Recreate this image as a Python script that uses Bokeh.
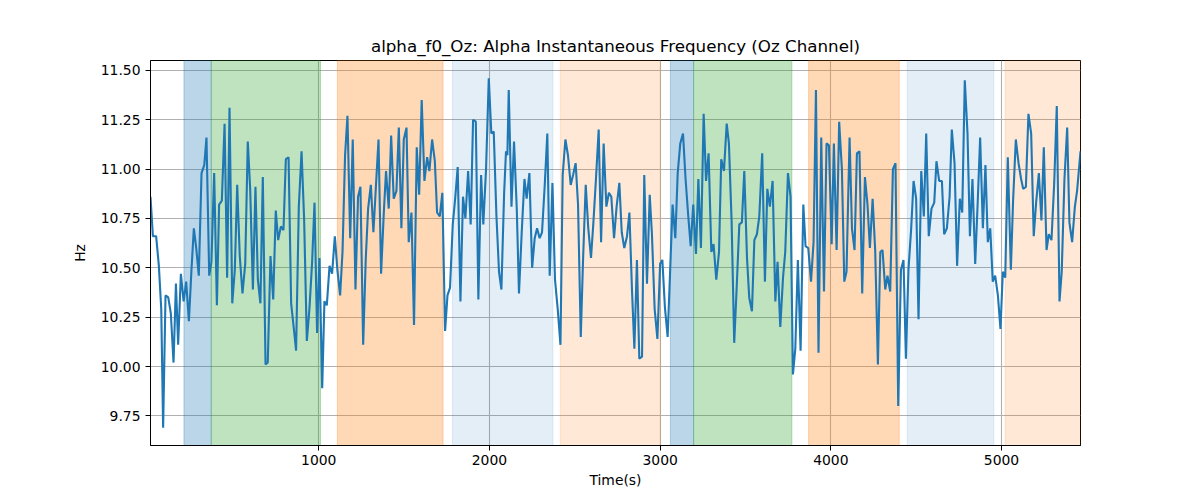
from bokeh.plotting import figure
from bokeh.embed import file_html
from bokeh.resources import INLINE
from bokeh.models import BoxAnnotation, Range1d, FixedTicker, NumeralTickFormatter

# sample times (s) and alpha instantaneous frequency (Hz)
time_s = [
    14, 28, 47, 63, 77, 88, 102, 118, 133, 149, 163, 176, 192, 208, 223, 239, 254, 268, 282, 297,
    313, 329, 342, 358, 371, 387, 403, 416, 432, 448, 463, 477, 493, 508, 522, 537, 553, 569, 584, 598,
    614, 629, 643, 658, 672, 688, 701, 717,
    733, 748, 762, 778, 793, 807, 823, 838, 854, 867, 883, 899, 914, 930, 945, 961, 975, 990, 1004, 1020,
    1033, 1047, 1063, 1078, 1094, 1109, 1125, 1139, 1154, 1168, 1184, 1199, 1215, 1230, 1244, 1260, 1275, 1289, 1305, 1320,
    1334, 1350, 1365, 1381, 1394,
    1410, 1424, 1439, 1455, 1469, 1484, 1498, 1514, 1527, 1543, 1558, 1574, 1588, 1603, 1619, 1635, 1648, 1664, 1680, 1693,
    1709, 1724, 1740, 1754, 1769, 1785, 1800, 1814, 1830, 1845, 1859, 1875, 1890, 1904, 1920, 1935, 1951, 1964, 1980, 1996,
    2011, 2025, 2041, 2056, 2070, 2086, 2097, 2105,
    2113, 2129, 2144, 2160, 2173, 2189, 2205, 2218, 2234, 2250, 2265, 2279, 2294, 2308, 2324, 2339, 2353, 2369, 2384, 2400,
    2416, 2429, 2445, 2460, 2476, 2490, 2505, 2519, 2535, 2548, 2564, 2579, 2595, 2609, 2624, 2640, 2654, 2669, 2685, 2700,
    2714, 2730, 2745, 2761, 2775, 2790, 2806, 2820,
    2835, 2849, 2864, 2878, 2894, 2907, 2923, 2939, 2952, 2968, 2984, 3000, 3013, 3028, 3044, 3058, 3073, 3089, 3103, 3118,
    3134, 3149, 3165, 3179, 3194, 3210, 3224, 3239, 3255, 3269, 3284, 3300, 3313, 3329, 3345, 3358, 3374, 3390, 3403, 3419,
    3434, 3448, 3464, 3479, 3493, 3509,
    3522, 3538, 3552, 3567, 3581, 3598, 3614, 3628, 3643, 3659, 3675, 3688, 3704, 3720, 3733, 3749, 3764, 3778, 3792, 3807,
    3823, 3839, 3852, 3868, 3884, 3899, 3913, 3928, 3944, 3960, 3975, 3989, 4005, 4018, 4034, 4049, 4065, 4079, 4092, 4110,
    4124, 4139, 4153, 4168, 4184, 4200,
    4215, 4229, 4245, 4260, 4276, 4290, 4303, 4319, 4332, 4348, 4364, 4379, 4395, 4411, 4426, 4440, 4455, 4471, 4485, 4500,
    4514, 4530, 4545, 4559, 4574, 4590, 4606, 4619, 4635, 4651, 4664, 4680, 4696, 4709, 4725, 4740, 4756, 4770, 4785, 4801,
    4815, 4830, 4846, 4861, 4875, 4891, 4906, 4920, 4934,
    4949, 4963, 4979, 4994, 5008, 5022, 5037, 5055, 5068, 5084, 5100, 5115, 5127, 5143, 5158, 5174, 5189, 5203, 5219, 5234,
    5248, 5264, 5277, 5293, 5309, 5324, 5340, 5353, 5369, 5385, 5398, 5414, 5430, 5443, 5463,
]
freq_hz = [
    10.86, 10.66, 10.66, 10.51, 10.29, 9.69, 10.36, 10.35, 10.27, 10.02, 10.42, 10.11, 10.47, 10.33, 10.43, 10.23, 10.49, 10.70, 10.60, 10.46,
    10.98, 11.02, 11.16, 10.46, 10.53, 10.98, 10.31, 10.82, 10.84, 11.23, 10.45, 11.31, 10.32, 10.49, 10.92, 10.56, 10.37, 10.52, 11.14, 10.90,
    10.39, 10.91, 10.44, 10.32, 10.96, 10.01, 10.02, 10.56,
    10.34, 10.79, 10.64, 10.71, 10.69, 11.05, 11.06, 10.32, 10.19, 10.08, 10.81, 11.09, 10.75, 10.13, 10.29, 10.53, 10.83, 10.17, 10.55, 9.89,
    10.33, 10.31, 10.51, 10.47, 10.66, 10.49, 10.36, 10.58, 11.07, 11.27, 10.65, 11.15, 10.39, 10.86, 10.91, 10.11, 10.54, 10.80, 10.92, 10.68,
    10.90, 11.15, 10.47, 10.78, 10.99,
    10.80, 11.17, 10.85, 10.89, 11.21, 10.70, 11.15, 11.21, 10.63, 10.78, 10.21, 11.11, 10.87, 11.35, 10.94, 11.06, 10.99, 11.15, 11.04, 10.78,
    10.76, 10.88, 10.18, 10.36, 10.40, 10.72, 10.86, 11.01, 10.33, 10.86, 10.75, 10.99, 10.72, 11.25, 11.24, 10.34, 10.97, 10.72, 11.00, 11.46,
    11.18, 11.19, 10.76, 10.48, 10.39, 10.88, 11.09, 11.07,
    11.40, 10.81, 11.14, 10.80, 10.37, 10.68, 10.95, 10.85, 10.98, 10.50, 10.65, 10.70, 10.65, 10.68, 10.92, 11.18, 10.46, 10.93, 10.44, 10.29,
    10.11, 10.97, 11.15, 11.07, 10.92, 10.97, 11.03, 10.82, 10.15, 10.53, 10.92, 10.70, 10.55, 10.73, 10.95, 11.20, 10.63, 11.13, 10.81, 10.88,
    10.86, 10.65, 10.81, 10.93, 10.68, 10.60, 10.66, 10.78,
    10.39, 10.09, 10.54, 10.04, 10.05, 10.97, 10.42, 10.87, 10.67, 10.29, 10.14, 10.52, 10.54, 10.30, 10.15, 10.47, 10.82, 10.65, 10.98, 11.13,
    11.18, 10.95, 10.76, 10.61, 10.82, 10.57, 10.95, 10.60, 11.28, 10.94, 11.08, 10.58, 10.62, 10.44, 10.58, 11.05, 10.99, 11.23, 11.13, 10.73,
    10.12, 10.39, 10.72, 10.73, 10.99, 10.55,
    10.35, 10.28, 10.64, 10.67, 10.76, 11.08, 10.43, 10.90, 10.81, 10.94, 10.33, 10.53, 10.20, 10.45, 10.58, 10.98, 10.86, 9.96, 10.09, 10.54,
    10.08, 10.82, 10.61, 10.60, 10.43, 10.63, 11.40, 10.07, 11.16, 10.38, 11.13, 11.12, 10.62, 11.13, 10.59, 11.24, 11.00, 10.43, 10.48, 11.16,
    10.70, 10.59, 11.08, 11.09, 10.37, 10.96,
    10.82, 10.60, 10.85, 10.59, 10.01, 10.58, 10.59, 10.39, 10.46, 10.38, 11.00, 11.03, 9.80, 10.49, 10.54, 10.04, 10.49, 10.70, 10.94, 10.85,
    10.24, 10.99, 10.76, 11.18, 10.66, 10.80, 10.83, 11.04, 10.94, 10.94, 10.67, 10.70, 10.86, 11.20, 11.03, 10.51, 10.85, 10.78, 11.45, 11.18,
    10.66, 10.95, 10.52, 10.84, 11.16, 10.70, 11.02, 10.63, 10.70,
    10.43, 10.46, 10.36, 10.19, 10.48, 10.45, 11.06, 10.49, 10.84, 11.15, 11.03, 10.95, 10.90, 10.91, 11.28, 11.18, 10.66, 10.83, 10.98, 10.74,
    11.11, 10.59, 10.67, 10.64, 10.93, 11.32, 10.33, 10.48, 10.95, 11.21, 10.73, 10.63, 10.81, 10.89, 11.09,
]

# shaded task segments
span_start = [210, 370, 1109, 1783, 2415, 3060, 3196, 3870, 4448, 5021]
span_end = [370, 1010, 1728, 2372, 3001, 3196, 3772, 4401, 4955, 5463]
span_color = ["#1f77b4", "#2ca02c", "#ff7f0e", "#1f77b4", "#ff7f0e",
              "#1f77b4", "#2ca02c", "#ff7f0e", "#1f77b4", "#ff7f0e"]
span_alpha = [0.3, 0.3, 0.3, 0.12, 0.17, 0.3, 0.3, 0.3, 0.12, 0.17]

x_ticks = [1000, 2000, 3000, 4000, 5000]
y_ticks = [9.75, 10.0, 10.25, 10.5, 10.75, 11.0, 11.25, 11.5]

FONT = "DejaVu Sans"

p = figure(frame_width=930, frame_height=385, output_backend="svg", toolbar_location=None,
           title="alpha_f0_Oz: Alpha Instantaneous Frequency (Oz Channel)",
           x_range=Range1d(time_s[0], time_s[-1]), y_range=Range1d(9.60, 11.55),
           min_border_left=150, min_border_right=104, min_border_top=60, min_border_bottom=40)

for s, e, c, a in zip(span_start, span_end, span_color, span_alpha):
    p.add_layout(BoxAnnotation(left=s, right=e, fill_color=c, fill_alpha=a,
                               line_color=c, line_alpha=a, line_width=1, level="underlay"))

p.line(time_s, freq_hz, line_color="#1f77b4", line_width=2.1)

p.title.align = "center"
p.title.text_font = FONT
p.title.text_font_size = "16.7px"
p.title.text_font_style = "normal"
p.title.text_color = "black"

p.xaxis.axis_label = "Time(s)"
p.yaxis.axis_label = "Hz"
p.xaxis.ticker = FixedTicker(ticks=x_ticks)
p.yaxis.ticker = FixedTicker(ticks=y_ticks)
p.yaxis.formatter = NumeralTickFormatter(format="0.00")

for ax in (p.xaxis, p.yaxis):
    ax.axis_label_text_font = FONT
    ax.axis_label_text_font_size = "13.9px"
    ax.axis_label_text_font_style = "normal"
    ax.axis_label_text_color = "black"
    ax.major_label_text_font = FONT
    ax.major_label_text_font_size = "13.9px"
    ax.major_label_text_color = "black"
    ax.axis_line_color = "black"
    ax.major_tick_line_color = "black"
    ax.major_tick_out = 5
    ax.major_tick_in = 0
    ax.minor_tick_line_color = None
p.xaxis.major_label_standoff = 4
p.xaxis.axis_label_standoff = 4
p.yaxis.axis_label_standoff = 10

p.grid.grid_line_color = "#b0b0b0"
p.grid.grid_line_width = 1.1
p.outline_line_color = "black"
p.outline_line_alpha = 1
p.background_fill_color = "white"

open("out.html", "w").write(file_html(p, INLINE))
